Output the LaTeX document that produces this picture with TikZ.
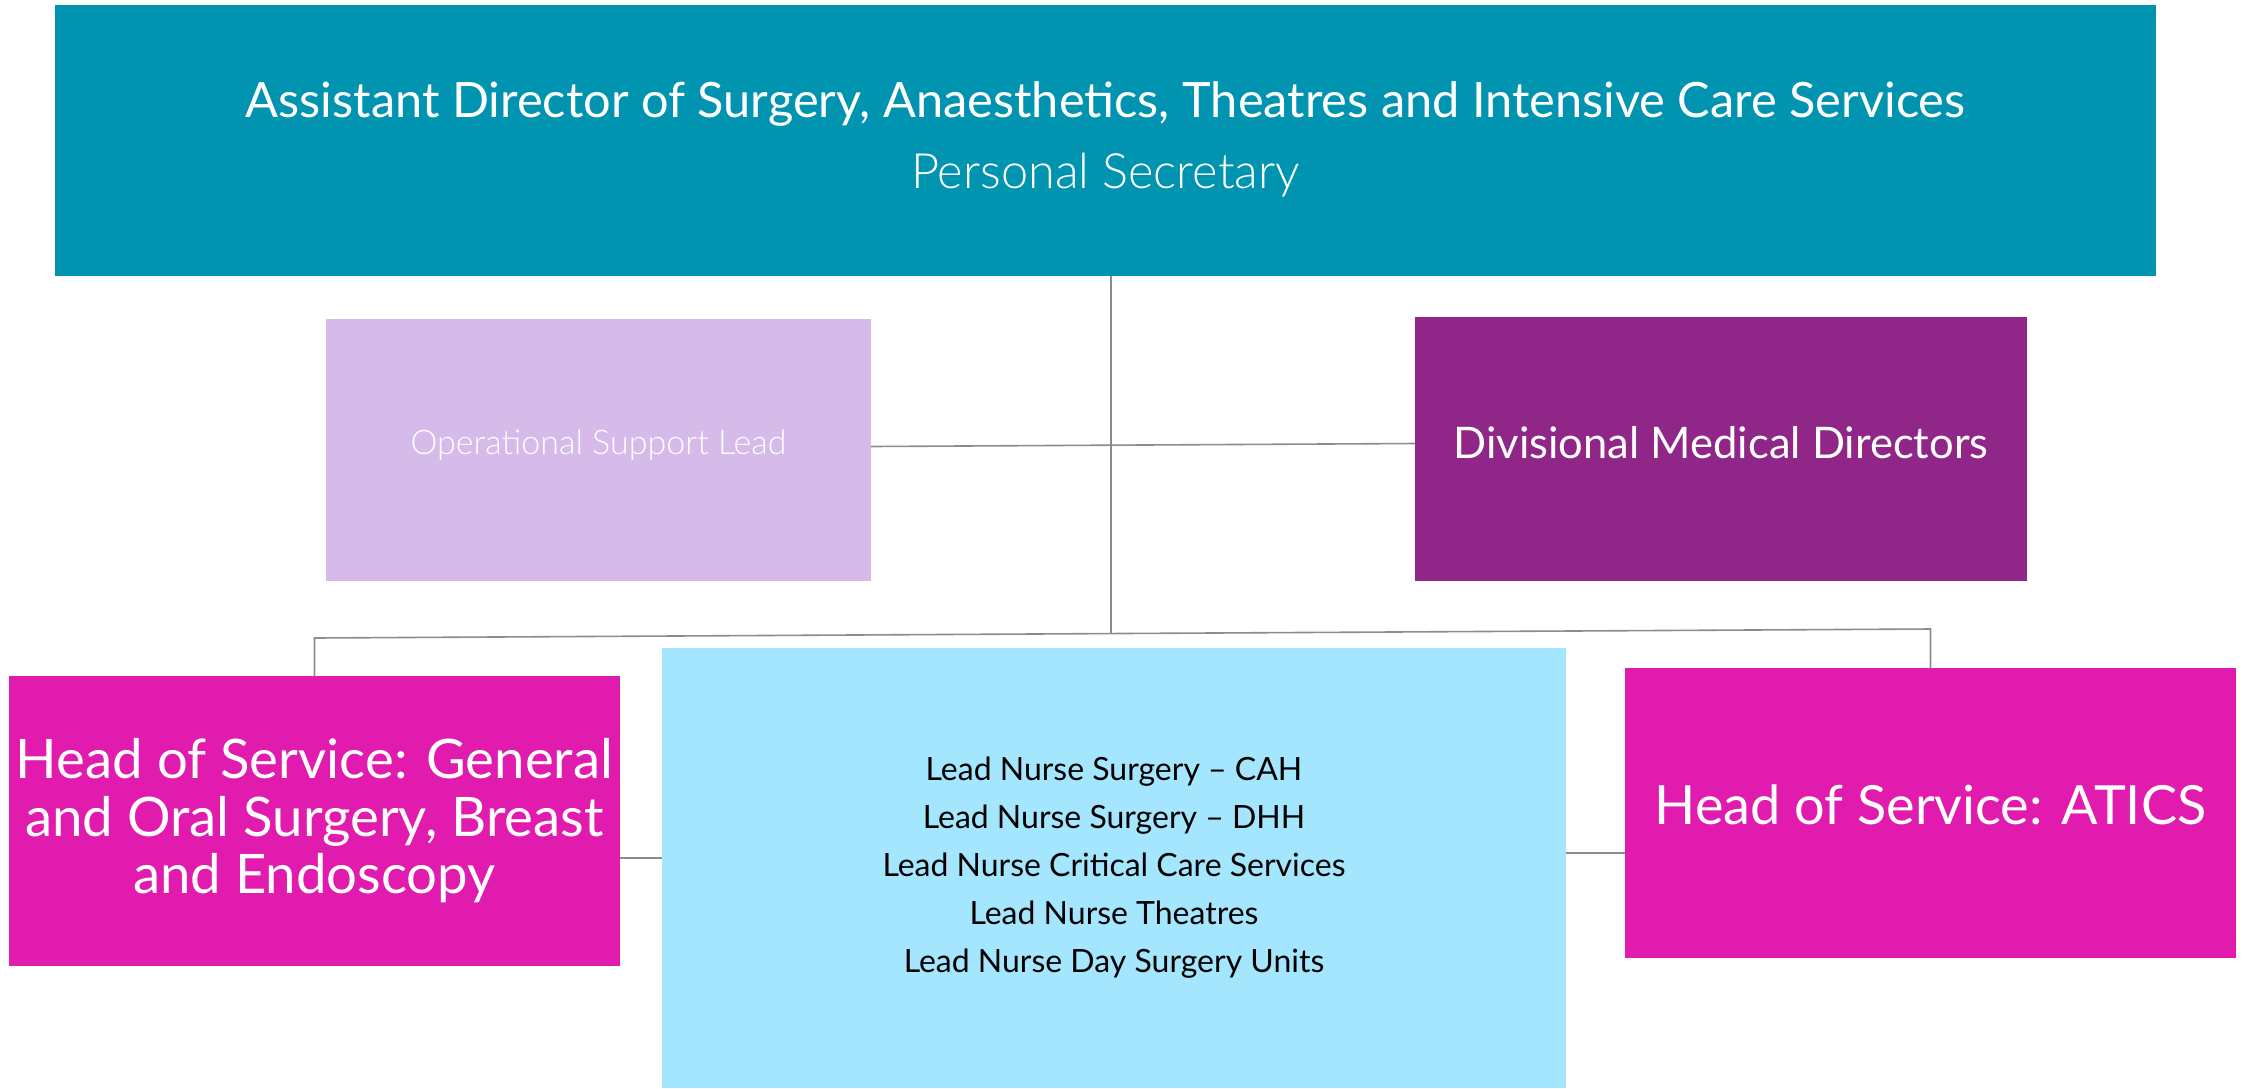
\documentclass[tikz,border=0pt]{standalone}
\usepackage{fontspec}
\setmainfont{Lato}
\newfontfamily\lightfont{Lato Light}
\definecolor{teal}{HTML}{0094B0}
\definecolor{lavender}{HTML}{D6BAEA}
\definecolor{plum}{HTML}{912689}
\definecolor{magenta}{HTML}{E21BAF}
\definecolor{skyblue}{HTML}{A5E6FF}
\definecolor{linegray}{HTML}{8C8C8C}
\begin{document}
\begin{tikzpicture}[x=1pt,y=-1pt,
  box/.style={inner sep=0pt, outer sep=0pt, align=center},
  conn/.style={draw=linegray, line width=1.6pt}]
\useasboundingbox (0,0) rectangle (2247,1088);
% boxes
\node[box, fill=teal, minimum width=2101pt, minimum height=271pt, text=white,
  font={\fontsize{48.7}{71}\selectfont}] (top) at (1105.5,140.5)
  {Assistant Director of Surgery, Anaesthetics, Theatres and Intensive Care Services\\
   {\lightfont Personal Secretary}\rule[-10pt]{0pt}{1pt}};
\node[box, fill=lavender, minimum width=545pt, minimum height=262pt, text=white,
  font={\fontsize{34}{40}\selectfont\lightfont}, text depth=15pt] (ops) at (598.5,450)
  {Operational Support Lead};
\node[box, fill=plum, minimum width=612pt, minimum height=264pt, text=white,
  font={\fontsize{43.5}{50}\selectfont}, text depth=14pt] (dmd) at (1721,449)
  {Divisional Medical Directors};
\node[box, fill=magenta, minimum width=611pt, minimum height=290pt, text=white,
  font={\fontsize{54.5}{57.5}\selectfont}] (hgen) at (314.5,821)
  {Head of Service: General\\ and Oral Surgery, Breast\\ and Endoscopy};
\node[box, fill=skyblue, minimum width=904pt, minimum height=440pt, text=black,
  font={\fontsize{32}{48}\selectfont}] (nurse) at (1114,868)
  {Lead Nurse Surgery -- CAH\\ Lead Nurse Surgery -- DHH\\ Lead Nurse Critical Care Services\\ Lead Nurse Theatres\\ Lead Nurse Day Surgery Units};
\node[box, fill=magenta, minimum width=611pt, minimum height=290pt, text=white,
  font={\fontsize{54}{60}\selectfont}, text depth=17pt] (atics) at (1930.5,813)
  {Head of Service: ATICS};
% connectors
\coordinate (trunk) at (1111,634);
\coordinate (busL) at (314.5,638);
\coordinate (busR) at (1930.5,629);
\draw[conn] (top.south -| trunk) -- (trunk);
\draw[conn] (ops.east |- 0,446.5) -- (dmd.west |- 0,443.5);
\draw[conn] (hgen.north) -- (busL) -- (busR) -- (atics.north);
\draw[conn] (hgen.east |- 0,858) -- (nurse.west |- 0,858);
\draw[conn] (nurse.east |- 0,853) -- (atics.west |- 0,853);
\end{tikzpicture}
\end{document}
